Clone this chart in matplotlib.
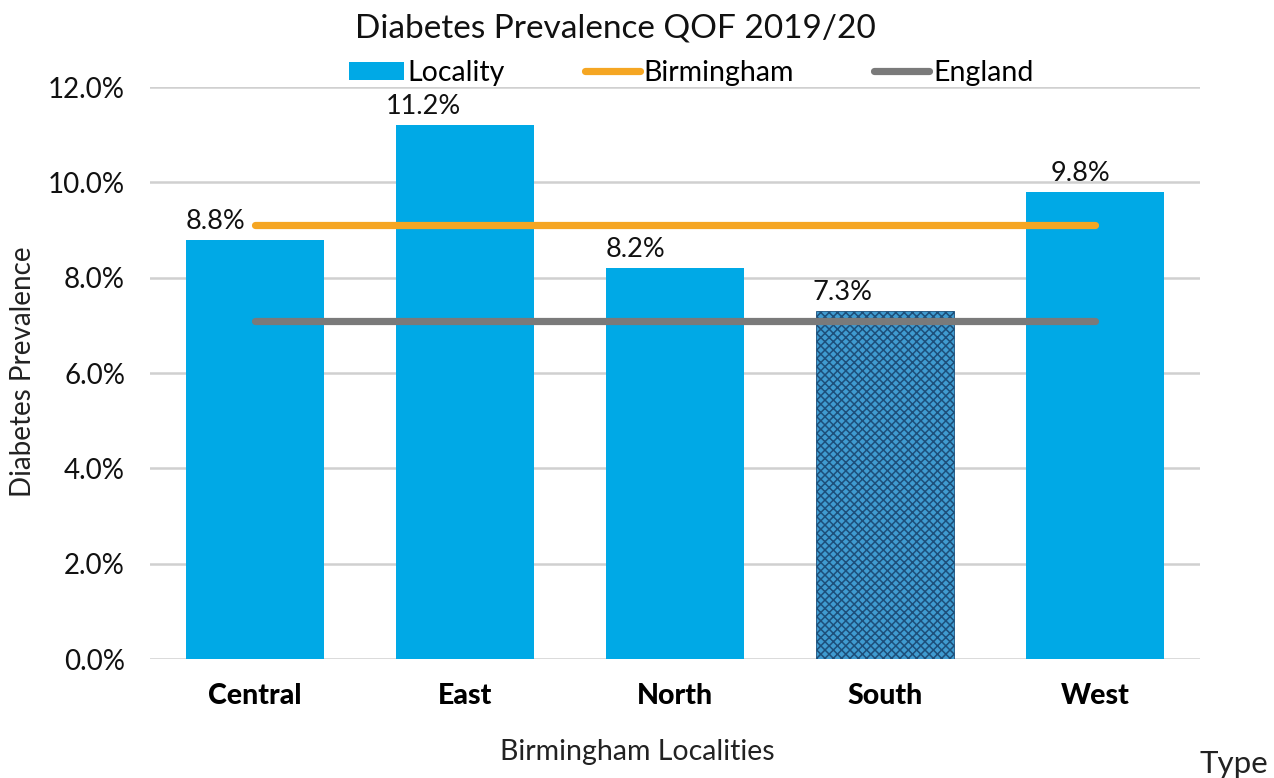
import matplotlib
matplotlib.use("Agg")
import matplotlib.pyplot as plt
from matplotlib.patches import Patch
from matplotlib.lines import Line2D
import matplotlib.ticker as mticker

categories = ["Central", "East", "North", "South", "West"]
locality = [8.8, 11.2, 8.2, 7.3, 9.8]
birmingham = [9.1, 9.1, 9.1, 9.1, 9.1]
england = [7.1, 7.1, 7.1, 7.1, 7.1]
yticks = [0, 2, 4, 6, 8, 10, 12]
label_dx = [-0.19, -0.20, -0.19, -0.20, -0.07]

FONT = "Lato"
plt.rcParams['font.family'] = [FONT, 'DejaVu Sans']
plt.rcParams['hatch.color'] = "#1d4f7a"
plt.rcParams['hatch.linewidth'] = 1.1

fig = plt.figure(figsize=(12.74, 7.78), dpi=100)
ax = fig.add_axes([150/1274, 1-659/778, 1050/1274, (659-87)/778])

x = list(range(len(categories)))
bars = ax.bar(x, locality, width=0.66, color="#00a9e6", zorder=2)
south = bars[3]
south.set_facecolor("#3f9bd0")
south.set_hatch("xxxx")
south.set_edgecolor("#1d4f7a")
south.set_linewidth(0.6)

ax.plot(x, birmingham, color="#f5a623", lw=5.2, solid_capstyle="round", zorder=3)
ax.plot(x, england, color="#7a7a7a", lw=5.2, solid_capstyle="round", zorder=3)

for xi, v, dx in zip(x, locality, label_dx):
    ax.text(xi + dx, v + 0.12, f"{v:.1f}%", ha="center", va="bottom", fontsize=19.5, color="#111111")

ax.set_xlim(-0.5, 4.5)
ax.set_ylim(0, 12)
ax.set_yticks(yticks)
ax.yaxis.set_major_formatter(mticker.FuncFormatter(lambda v, p: f"{v:.1f}%"))
ax.grid(axis="y", color="#d0d0d0", lw=1.8, zorder=0)
ax.set_axisbelow(True)
for s in ax.spines.values():
    s.set_visible(False)
ax.tick_params(axis="both", length=0)
ax.tick_params(axis="y", labelsize=20, pad=18, labelcolor="#111111")
ax.set_xticks(x)
ax.set_xticklabels(categories, fontsize=20.5, fontweight=900)
ax.tick_params(axis="x", pad=17)

fig.text(23/1274, 1-372/778, "Diabetes Prevalence", rotation=90, ha="center", va="center", fontsize=20, color="#222222")
fig.text(637/1274, 1-752/778, "Birmingham Localities", ha="center", va="center", fontsize=20.5, color="#222222")
fig.text(1200/1274, 1-764/778, "Type", ha="left", va="center", fontsize=22.5, color="#222222")
fig.text(615/1274, 1-28/778, "Diabetes Prevalence QOF 2019/20", ha="center", va="center", fontsize=24, color="#111111")

handles = [Patch(facecolor="#00a9e6"),
           Line2D([0], [0], color="#f5a623", lw=5.2, solid_capstyle="round"),
           Line2D([0], [0], color="#7a7a7a", lw=5.2, solid_capstyle="round")]
fig.legend(handles, ["Locality", "Birmingham", "England"], loc="center",
           bbox_to_anchor=(691/1274, 1-73/778), ncol=3, frameon=False,
           fontsize=20.5, handlelength=1.95, handletextpad=0.12, columnspacing=2.8,
           handleheight=0.6, borderpad=0.1)

fig.savefig("out.png", dpi=100)
